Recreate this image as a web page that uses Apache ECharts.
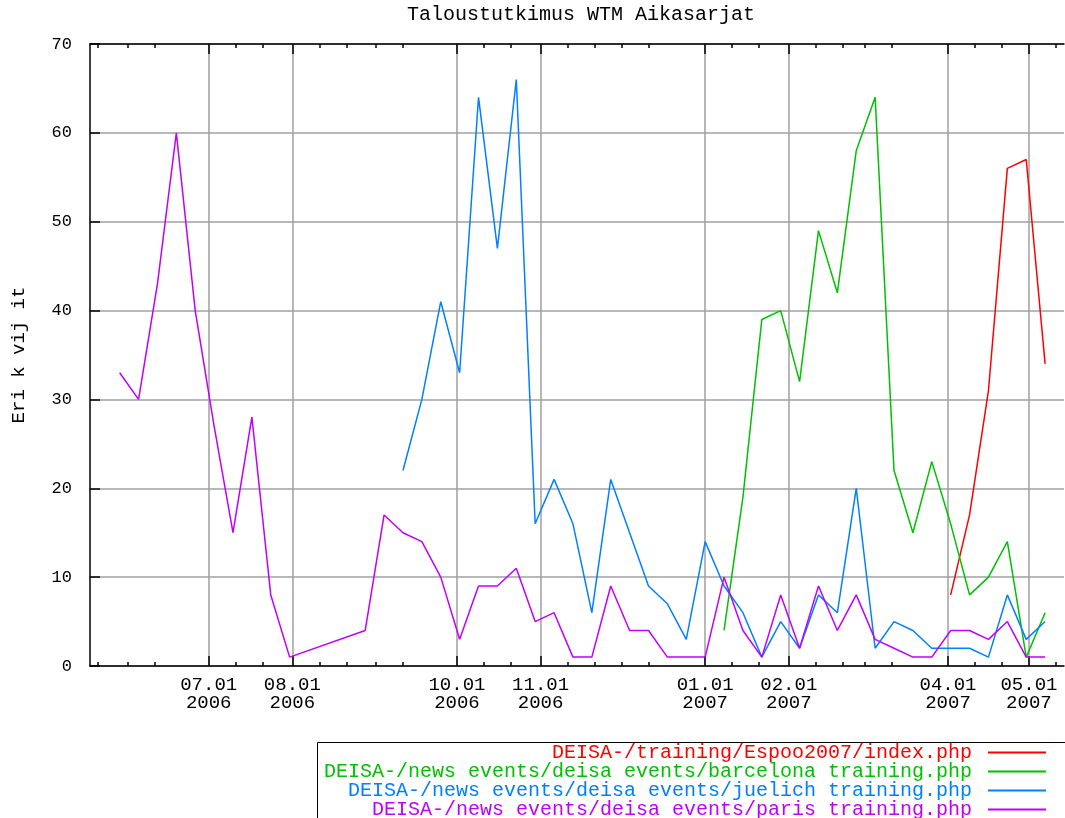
<!DOCTYPE html>
<html><head><meta charset="utf-8">
<script src="https://cdn.jsdelivr.net/npm/echarts@6/dist/echarts.min.js"></script>
<style>html,body{margin:0;padding:0;background:#fff}#c{width:1065px;height:818px}</style>
</head><body><div id="c"></div><script>
const weeks = ['2006-05-29','2006-06-05','2006-06-12','2006-06-19','2006-06-26','2006-07-03','2006-07-10','2006-07-17','2006-07-24','2006-07-31',
 '2006-08-07','2006-08-14','2006-08-21','2006-08-28','2006-09-04','2006-09-11','2006-09-18','2006-09-25','2006-10-02','2006-10-09',
 '2006-10-16','2006-10-23','2006-10-30','2006-11-06','2006-11-13','2006-11-20','2006-11-27','2006-12-04','2006-12-11','2006-12-18',
 '2006-12-25','2007-01-01','2007-01-08','2007-01-15','2007-01-22','2007-01-29','2007-02-05','2007-02-12','2007-02-19','2007-02-26',
 '2007-03-05','2007-03-12','2007-03-19','2007-03-26','2007-04-02','2007-04-09','2007-04-16','2007-04-23','2007-04-30','2007-05-07'];
const espoo = [null,null,null,null,null,null,null,null,null,null, null,null,null,null,null,null,null,null,null,null,
 null,null,null,null,null,null,null,null,null,null, null,null,null,null,null,null,null,null,null,null,
 null,null,null,null,8,17,31,56,57,34];
const barcelona = [null,null,null,null,null,null,null,null,null,null, null,null,null,null,null,null,null,null,null,null,
 null,null,null,null,null,null,null,null,null,null, null,null,4,19,39,40,32,49,42,58,
 64,22,15,23,16,8,10,14,1,6];
const juelich = [null,null,null,null,null,null,null,null,null,null, null,null,null,null,null,22,30,41,33,64,
 47,66,16,21,16,6,21,15,9,7, 3,14,9,6,1,5,2,8,6,20,
 2,5,4,2,2,2,1,8,3,5];
const paris = [33,30,43,60,40,27,15,28,8,1, null,null,null,4,17,15,14,10,3,9,
 9,11,5,6,1,1,9,4,4,1, 1,1,10,4,1,8,2,9,4,8,
 3,2,1,1,4,4,3,5,1,1];
const seriesNames = ['DEISA-/training/Espoo2007/index.php',
 'DEISA-/news events/deisa events/barcelona training.php',
 'DEISA-/news events/deisa events/juelich training.php',
 'DEISA-/news events/deisa events/paris training.php'];
const seriesColors = ['#ff0000','#00c000','#0080ff','#c000ff'];
const majorTicks = ['2006-07-01','2006-08-01','2006-10-01','2006-11-01','2007-01-01','2007-02-01','2007-04-01','2007-05-01'];
const minorTicks = ['2006-05-21','2006-06-01','2006-06-11','2006-07-11','2006-07-21','2006-08-11','2006-08-21','2006-09-01','2006-09-11',
 '2006-10-11','2006-10-21','2006-11-11','2006-11-21','2006-12-01','2006-12-11','2007-01-11','2007-01-21','2007-02-11','2007-02-21',
 '2007-03-01','2007-03-11','2007-04-11','2007-04-21','2007-05-11'];
const xRange = ['2006-05-18','2007-05-14'];
const yRange = [0, 70, 10];

function ts(s){ const p = s.split('-'); return new Date(+p[0], +p[1]-1, +p[2]).getTime(); }
function fmtDate(v){ const d = new Date(v); return String(d.getMonth()+1).padStart(2,'0') + '.' + String(d.getDate()).padStart(2,'0') + '\n' + d.getFullYear(); }

const seriesValues = [espoo, barcelona, juelich, paris];
const majorTs = majorTicks.map(ts), minorTs = minorTicks.map(ts);
const tMin = ts(xRange[0]), tMax = ts(xRange[1]);
const FONT = 'Liberation Mono';
const legendCenters = [752.5, 771.5, 790.5, 809.5];

const baseX = {type:'value', min:tMin, max:tMax, scale:true, axisLabel:{show:false}, splitLine:{show:false}, axisPointer:{show:false}};
const chart = echarts.init(document.getElementById('c'), null, {renderer:'canvas'});
chart.setOption({
  animation:false,
  backgroundColor:'#fff',
  title:{text:'Taloustutkimus WTM Aikasarjat', left:407, top:5, padding:0,
    textStyle:{fontFamily:FONT, fontSize:20, fontWeight:'normal', color:'#000'}},
  grid:{left:90, right:1, top:44, bottom:152, containLabel:false},
  xAxis:[
    Object.assign({}, baseX, {position:'bottom',
      axisLine:{show:true, onZero:false, lineStyle:{color:'#000', width:1.5}},
      axisTick:{show:true, inside:true, length:10, customValues:majorTs, lineStyle:{color:'#000', width:1.5}},
      axisLabel:{show:true, customValues:majorTs, formatter:fmtDate, color:'#000', fontFamily:FONT, fontSize:19, lineHeight:18, margin:10},
      splitLine:{show:true, lineStyle:{color:'#a0a0a0', width:1.5}}}),
    Object.assign({}, baseX, {position:'bottom', axisLine:{show:false, onZero:false},
      axisTick:{show:true, inside:true, length:4, customValues:minorTs, lineStyle:{color:'#000', width:1.5}}}),
    Object.assign({}, baseX, {position:'top', axisLine:{show:true, onZero:false, lineStyle:{color:'#000', width:1.5}},
      axisTick:{show:true, inside:true, length:10, customValues:majorTs, lineStyle:{color:'#000', width:1.5}}}),
    Object.assign({}, baseX, {position:'top', axisLine:{show:false, onZero:false},
      axisTick:{show:true, inside:true, length:4, customValues:minorTs, lineStyle:{color:'#000', width:1.5}}})
  ],
  yAxis:{type:'value', min:yRange[0], max:yRange[1], interval:yRange[2],
    name:'Eri k vij it', nameLocation:'middle', nameRotate:90, nameGap:62,
    nameTextStyle:{fontFamily:FONT, fontSize:19, color:'#000'},
    axisLine:{show:true, lineStyle:{color:'#000', width:1.5}},
    axisTick:{show:true, inside:true, length:10, lineStyle:{color:'#000', width:1.5}},
    axisLabel:{color:'#000', fontFamily:FONT, fontSize:17, margin:18},
    splitLine:{show:true, lineStyle:{color:'#a0a0a0', width:1.5}}},
  legend: seriesNames.map((n, i) => ({
    data:[n], orient:'horizontal', align:'right', right:19, top:legendCenters[i] - 10, padding:0,
    itemWidth:58, itemHeight:2, icon:'rect', selectedMode:false,
    textStyle:{color:seriesColors[i], fontFamily:FONT, fontSize:20, lineHeight:20, padding:[0, 11, 0, 0]}
  })),
  graphic:[{type:'rect', silent:true, z:-1, shape:{x:317.5, y:742.5, width:800, height:200},
    style:{fill:'none', stroke:'#000', lineWidth:1}}],
  series: seriesNames.map((n, i) => ({
    name:n, type:'line', xAxisIndex:0, yAxisIndex:0, showSymbol:false, symbol:'none', connectNulls:true,
    color:seriesColors[i], lineStyle:{color:seriesColors[i], width:1.5},
    data: weeks.map((w, k) => [ts(w), seriesValues[i][k]]).filter(d => d[1] !== null)
  }))
});
</script></body></html>
